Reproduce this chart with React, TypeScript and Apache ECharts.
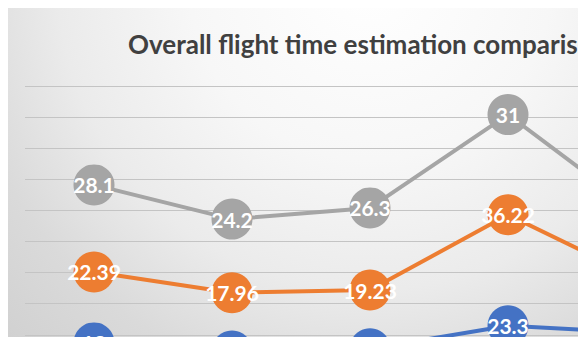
import React, { useEffect, useRef } from "react";
import * as echarts from "echarts";

const categories = ["Flight 1", "Flight 2", "Flight 3", "Flight 4", "Flight 5"];
// plotted positions (in grid units)
const grayValues = [34.1, 28.6, 30.4, 45.4, 28.8];
const orangeValues = [20.1, 16.75, 17.2, 29.3, 18.5];
const blueValues = [8.7, 7.4, 7.75, 11.45, 10.3];
// data label texts as shown
const grayLabels = ["28.1", "24.2", "26.3", "31", "24.5"];
const orangeLabels = ["22.39", "17.96", "19.23", "36.22", "20.1"];
const blueLabels = ["18", "16.5", "17.1", "23.3", "19.2"];

const seriesNames = ["Method A", "Method B", "Method C"];

export default function App() {
  const ref = useRef<HTMLDivElement>(null);
  useEffect(() => {
    if (!ref.current) return;
    const chart = echarts.init(ref.current, undefined, { renderer: "svg" });
    const mk = (name: string, values: number[], labels: string[], color: string, z: number) => ({
      name,
      type: "line",
      data: values,
      z,
      symbol: "circle",
      symbolSize: 41,
      lineStyle: { color, width: 4 },
      itemStyle: { color, borderWidth: 0 },
      label: {
        show: true,
        position: "inside",
        formatter: (p: any) => labels[p.dataIndex],
        color: "#ffffff",
        fontFamily: "Lato",
        fontWeight: "bold",
        fontSize: 21,
      },
    });
    chart.setOption({
      animation: false,
      backgroundColor: new echarts.graphic.RadialGradient(
        362,
        -30,
        520,
        [
          { offset: 0, color: "#ffffff" },
          { offset: 0.35, color: "#f7f7f7" },
          { offset: 0.6, color: "#ebebeb" },
          { offset: 0.8, color: "#dadada" },
          { offset: 1, color: "#d0d0d0" },
        ],
        true
      ),
      title: {
        text: "Overall flight time estimation comparison",
        left: 120,
        top: 23,
        padding: 0,
        textStyle: {
          fontFamily: "Lato",
          fontWeight: "bold",
          fontSize: 26,
          color: "#404040",
        },
      },
      legend: { show: false },
      grid: { left: 17, top: 78, width: 690, height: 311 },
      xAxis: {
        type: "category",
        data: categories,
        boundaryGap: true,
        axisLine: { show: false },
        axisTick: { show: false },
        axisLabel: { show: false },
      },
      yAxis: {
        type: "value",
        min: 0,
        max: 50,
        interval: 5,
        axisLine: { show: false },
        axisTick: { show: false },
        axisLabel: { show: false },
        splitLine: { lineStyle: { color: "#c4c4c4", width: 1 } },
      },
      series: [
        mk(seriesNames[0], blueValues, blueLabels, "#4472C4", 2),
        mk(seriesNames[1], orangeValues, orangeLabels, "#ED7D31", 3),
        mk(seriesNames[2], grayValues, grayLabels, "#A5A5A5", 4),
      ],
    });
    return () => chart.dispose();
  }, []);
  return (
    <div style={{ width: 578, height: 329, overflow: "hidden", position: "relative" }}>
      <div ref={ref} style={{ width: 724, height: 440 }} />
    </div>
  );
}
